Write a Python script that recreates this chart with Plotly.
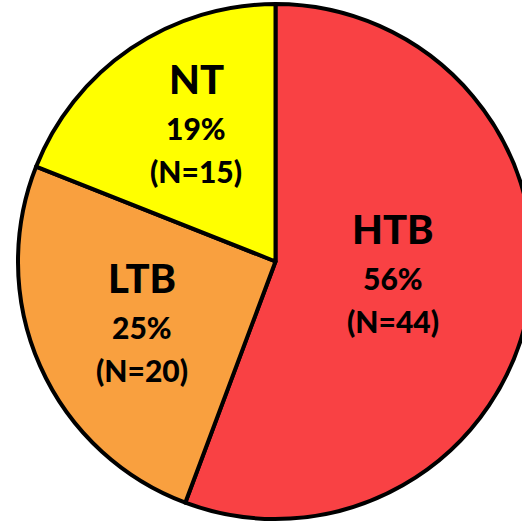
import plotly.graph_objects as go

labels = ["HTB", "LTB", "NT"]
counts = [44, 20, 15]
colors = ["#F94144", "#F9A03F", "#FFFF00"]

# label anchor positions (pixel centres of text blocks)
label_x = [393, 142, 196]
label_y = [229, 278, 79]

W, H = 540, 522
total = sum(counts)
pcts = [round(c / total * 100) for c in counts]

fig = go.Figure(go.Pie(
    labels=labels, values=counts, sort=False, direction="clockwise", rotation=0,
    marker=dict(colors=colors, line=dict(color="black", width=4)),
    textinfo="none", hoverinfo="none", showlegend=False,
    domain=dict(x=[18 / W, 533 / W], y=[3 / H, 518 / H]),
))

ann = []
for lab, c, p, px, py in zip(labels, counts, pcts, label_x, label_y):
    ann.append(dict(x=px / W, y=1 - py / H, xref="paper", yref="paper", showarrow=False,
                    text=lab, font=dict(family="Lato", size=40, color="black", weight=900),
                    xanchor="center", yanchor="middle"))
    ann.append(dict(x=px / W, y=1 - (py + 49) / H, xref="paper", yref="paper", showarrow=False,
                    text=f"{p}%", font=dict(family="Lato", size=30, color="black", weight=900),
                    xanchor="center", yanchor="middle"))
    ann.append(dict(x=px / W, y=1 - (py + 92) / H, xref="paper", yref="paper", showarrow=False,
                    text=f"(N={c})", font=dict(family="Lato", size=30, color="black", weight=900),
                    xanchor="center", yanchor="middle"))

fig.update_layout(width=W, height=H, margin=dict(l=0, r=0, t=0, b=0),
                  paper_bgcolor="white", plot_bgcolor="white", annotations=ann)

fig.write_html("out.html", config={"displayModeBar": False},
               post_script="document.body.style.margin='0';document.body.style.overflow='hidden';")
